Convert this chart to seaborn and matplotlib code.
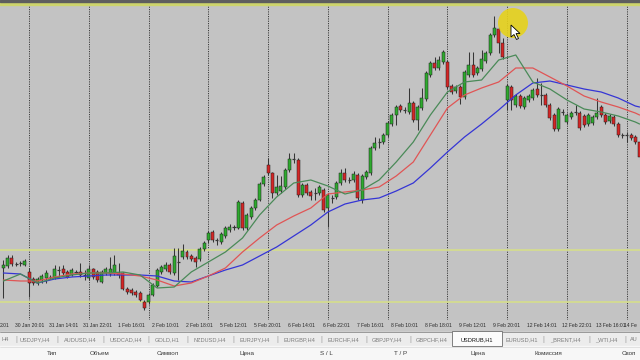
import matplotlib
matplotlib.use("Agg")
import matplotlib.pyplot as plt
import matplotlib.transforms as mtransforms
from matplotlib.patches import Rectangle, Circle, Polygon
import numpy as np
import pandas as pd
import seaborn as sns

# ---------------- data (USDRUB,H1, price in points above chart bottom) ----------------
open_pts = [52, 54, 62, 56, 57, 55, 48, 41, 37, 40, 42, 43, 42, 50, 51, 48, 45, 48, 48, 45,
            42, 51, 48, 38, 47, 46, 47, 47, 47, 31, 30, 28, 27, 18, 18, 25, 34, 48, 51, 55,
            47, 58, 63, 68, 64, 62, 61, 71, 80, 88, 80, 78, 84, 90, 93, 92, 117, 92, 103, 112,
            120, 136, 155, 147, 127, 129, 133, 150, 161, 160, 125, 135, 128, 127, 127, 130, 112, 122, 123, 137,
            147, 140, 140, 145, 120, 143, 147, 172, 178, 178, 185, 196, 205, 214, 210, 208, 217, 200, 212, 221,
            245, 257, 252, 258, 258, 234, 229, 233, 223, 245, 255, 247, 251, 259, 267, 285, 291, 277, 220, 233,
            215, 224, 213, 220, 222, 231, 225, 225, 215, 205, 191, 208, 198, 203, 208, 207, 204, 196, 197, 203,
            213, 205, 199, 203, 196, 185, 185, 185, 183, 178]
high_pts = [60, 65, 65, 58, 59, 61, 52, 43, 43, 46, 50, 45, 55, 54, 55, 50, 52, 50, 57, 50,
            55, 52, 50, 50, 53, 63, 65, 57, 48, 33, 32, 30, 29, 20, 27, 37, 52, 55, 58, 57,
            72, 72, 76, 70, 66, 64, 73, 79, 89, 90, 82, 88, 94, 96, 95, 120, 119, 107, 114, 122,
            138, 145, 162, 148, 145, 144, 152, 167, 167, 162, 137, 137, 130, 132, 135, 132, 127, 125, 139, 151,
            152, 143, 149, 147, 146, 150, 174, 183, 182, 187, 199, 207, 215, 216, 213, 232, 219, 215, 232, 249,
            259, 263, 264, 270, 260, 236, 235, 235, 250, 268, 268, 254, 270, 269, 287, 304, 293, 282, 236, 235,
            226, 226, 224, 226, 232, 242, 237, 227, 217, 207, 213, 211, 207, 209, 215, 209, 206, 207, 205, 222,
            215, 207, 206, 205, 198, 187, 188, 187, 185, 180]
low_pts = [22, 52, 54, 54, 54, 54, 23, 35, 35, 37, 37, 41, 41, 43, 45, 42, 44, 46, 43, 40,
           40, 41, 38, 37, 45, 44, 45, 42, 30, 26, 25, 23, 19, 10, 16, 24, 33, 46, 49, 46,
           45, 40, 61, 61, 59, 53, 59, 69, 77, 78, 75, 76, 82, 88, 90, 91, 90, 90, 101, 110,
           119, 134, 145, 122, 125, 127, 131, 148, 157, 123, 123, 125, 120, 120, 125, 108, 93, 117, 121, 135,
           138, 137, 138, 120, 117, 141, 145, 170, 172, 176, 183, 194, 195, 208, 207, 206, 198, 190, 210, 219,
           243, 250, 250, 256, 231, 226, 227, 216, 221, 243, 243, 245, 249, 257, 265, 283, 267, 261, 210, 210,
           213, 212, 211, 218, 220, 223, 215, 213, 200, 189, 189, 205, 196, 201, 205, 190, 193, 194, 195, 201,
           203, 196, 197, 194, 183, 182, 178, 180, 176, 161]
close_pts = [55, 62, 56, 56, 57, 59, 37, 37, 41, 44, 47, 43, 51, 50, 47, 43, 50, 48, 45, 45,
             51, 43, 40, 48, 51, 51, 55, 45, 31, 28, 27, 25, 20, 12, 25, 35, 50, 53, 55, 48,
             64, 58, 69, 63, 61, 58, 71, 77, 87, 80, 80, 86, 92, 93, 93, 118, 92, 105, 112, 120,
             136, 143, 147, 127, 133, 134, 150, 161, 161, 125, 135, 127, 124, 127, 133, 110, 125, 122, 137, 147,
             140, 140, 146, 122, 144, 148, 172, 177, 178, 185, 197, 205, 213, 210, 210, 217, 200, 213, 222, 247,
             257, 252, 260, 268, 233, 228, 233, 223, 248, 255, 245, 252, 261, 267, 285, 292, 277, 263, 234, 220,
             224, 214, 222, 224, 230, 225, 225, 215, 202, 191, 211, 208, 205, 207, 208, 192, 195, 205, 203, 207,
             205, 198, 204, 196, 185, 185, 185, 182, 178, 163]

# moving averages at every 4th bar
ma_bars = [0, 4, 8, 12, 16, 20, 24, 28, 32, 36, 40, 44, 48, 52, 56, 60, 64, 68, 72, 76,
           80, 84, 88, 92, 96, 100, 104, 108, 112, 116, 120, 124, 128, 132, 136, 140, 144, 148, 149]
ma_fast = [39, 46, 37, 42, 45, 47, 47, 48, 45, 32, 33, 48, 58, 68, 82, 105, 123, 137, 140, 134,
           126, 130, 140, 158, 178, 205, 228, 238, 240, 260, 265, 238, 231, 220, 211, 208, 204, 198, 196]
ma_mid = [40, 39, 39, 43, 46, 47, 47, 46, 44, 40, 34, 37, 44, 52, 68, 82, 95, 104, 112, 126,
          128, 130, 133, 144, 158, 185, 212, 225, 232, 238, 252, 252, 243, 234, 224, 218, 213, 207, 205]
ma_slow = [47, 46, 37, 41, 43, 44, 45, 45, 45, 44, 39, 38, 44, 50, 55, 64, 73, 84, 95, 108,
           116, 120, 122, 129, 137, 152, 168, 183, 196, 210, 225, 237, 239, 235, 231, 228, 222, 214, 213]

level_lines = [70, 18]
top_line = 316.5
day_start_bars = [6, 20, 34, 48, 62, 76, 90, 104, 118, 132, 146]

# time-axis labels as visible in the screenshot (first and last are cut by the window)
time_label_bars = [-1.6, 2, 10, 18, 26, 34, 42, 50, 58, 66, 74, 82, 90, 98, 106, 114, 122, 130, 138, 144.6]
time_labels = ["2:01", "30 Jan 20:01", "31 Jan 14:01", "31 Jan 22:01", "1 Feb 16:01",
               "2 Feb 10:01", "2 Feb 18:01", "5 Feb 12:01", "5 Feb 20:01", "6 Feb 14:01",
               "6 Feb 22:01", "7 Feb 16:01", "8 Feb 10:01", "8 Feb 18:01", "9 Feb 12:01",
               "9 Feb 20:01", "12 Feb 14:01", "12 Feb 22:01", "13 Feb 16:01", "14 Fe"]

tab_names = ["H4", "USDJPY,H4", "AUDUSD,H4", "USDCAD,H4", "GOLD,H1", "NZDUSD,H4", "EURJPY,H4",
             "EURGBP,H4", "EURCHF,H4", "GBPJPY,H4", "GBPCHF,H4", "USDRUB,H1", "EURUSD,H1",
             "_BRENT,H4", "_WTI,H4", "AU"]
active_tab = "USDRUB,H1"
header_cols = ["Тип", "Объем", "Символ", "Цена", "S / L", "T / P", "Цена", "Комиссия", "Своп"]

# ---------------- layout constants (pixels) ----------------
tab_left_px = [1, 20, 64, 110, 155, 193, 240, 283, 328, 372, 416, 461, 505, 550, 595, 630]
tab_sep_px = [16, 57, 103, 148, 187, 233, 277, 321, 366, 410, 543, 589, 625]
header_center_px = [52, 100, 168, 247, 326, 401, 478, 548, 629]

BG = "#c3c3c3"
GREEN = "#2eaa2e"
RED = "#d42626"
WICK = "#363636"
EDGE = "#1e1e1e"

sns.set_style("white")
plt.rcParams["font.family"] = ["Liberation Sans", "DejaVu Sans"]

W, H = 640, 360
fig = plt.figure(figsize=(6.4, 3.6), dpi=100, facecolor=BG)
fx = lambda x: x / W
fy = lambda y: 1 - y / H

ax = fig.add_axes([0, fy(320), 1, 320 / H])
ax.set_facecolor(BG)
for s in ax.spines.values():
    s.set_visible(False)

df = pd.DataFrame({"bar": np.arange(len(open_pts)), "open": open_pts, "high": high_pts,
                   "low": low_pts, "close": close_pts})
up = df[df.close > df.open]
dn = df[df.close < df.open]
fl = df[df.close == df.open]

# separators and levels
for b in day_start_bars:
    ax.axvline(b, color="#3c3c3c", lw=0.7, ls=(0, (1.2, 1.2)), zorder=1)
for lv in level_lines:
    ax.axhline(lv, color="#d4dc90", lw=1.3, zorder=1.5)
ax.axhline(top_line, color="#cdd46c", lw=2.4, zorder=1.5)

# candles
ax.vlines(df.bar, df.low, df.high, color=WICK, lw=0.75, zorder=3)
ax.bar(up.bar, up.close - up.open, bottom=up.open, width=0.7, color=GREEN,
       edgecolor=EDGE, linewidth=0.35, zorder=4)
ax.bar(dn.bar, dn.open - dn.close, bottom=dn.close, width=0.7, color=RED,
       edgecolor=EDGE, linewidth=0.35, zorder=4)
ax.hlines(fl.close, fl.bar - 0.36, fl.bar + 0.36, color=WICK, lw=0.9, zorder=4)

# moving averages
ma = pd.DataFrame({"bar": ma_bars, "fast": ma_fast, "mid": ma_mid, "slow": ma_slow})
sns.lineplot(data=ma, x="bar", y="slow", color="#3535d5", lw=0.9, ax=ax, zorder=5)
sns.lineplot(data=ma, x="bar", y="mid", color="#e05555", lw=0.9, ax=ax, zorder=5)
sns.lineplot(data=ma, x="bar", y="fast", color="#4a8a58", lw=0.9, ax=ax, zorder=5)

ax.set_xlim(-0.8, 149.1)
ax.set_ylim(0, 320)
ax.set_xticks([])
ax.set_yticks([])
ax.set_xlabel("")
ax.set_ylabel("")

# ---------------- bottom panels ----------------
fig.add_artist(Rectangle((0, fy(1.5)), 1, 1.5 / H, transform=fig.transFigure,
                         color="#5e5e5e", zorder=6))
fig.add_artist(Rectangle((0, fy(332)), 1, 12 / H, transform=fig.transFigure,
                         color="#c6c6c6", zorder=1))
fig.add_artist(Rectangle((0, fy(346)), 1, 14 / H, transform=fig.transFigure,
                         color="#ececec", zorder=1))
fig.add_artist(Rectangle((0, 0), 1, 14 / H, transform=fig.transFigure,
                         color="#f7f7f7", zorder=1))
fig.add_artist(plt.Line2D([0, 1], [fy(332), fy(332)], transform=fig.transFigure,
                          color="#8c8c8c", lw=0.6, zorder=2))
fig.add_artist(plt.Line2D([0, 1], [fy(346.5), fy(346.5)], transform=fig.transFigure,
                          color="#d8d8d8", lw=0.5, zorder=2))

renderer = fig.canvas.get_renderer()


def fit_size(sample, target_px):
    t = fig.text(0, 0, sample, fontsize=10)
    w = t.get_window_extent(renderer).width
    t.remove()
    return 10 * target_px / w


fs_time = fit_size("30 Jan 20:01", 29)
fs_tab = fit_size("USDJPY,H4", 30)
fs_head = fit_size("Комиссия", 28)

blend = mtransforms.blended_transform_factory(ax.transData, fig.transFigure)
for b, lab in zip(time_label_bars, time_labels):
    fig.text(b + 0.75, fy(325.5), lab, transform=blend, fontsize=fs_time,
             color="#2a2a2a", ha="left", va="center", zorder=3)

# active tab
fig.add_artist(Rectangle((fx(452), fy(346)), 50 / W, 15 / H, transform=fig.transFigure,
                         facecolor="#fbfbfb", edgecolor="#6e6e6e", lw=0.6, zorder=2))
for name, x in zip(tab_names, tab_left_px):
    col = "#111111" if name == active_tab else "#7c7c7c"
    fig.text(fx(x), fy(339.5), name, fontsize=fs_tab, color=col, ha="left",
             va="center", zorder=3)
for x in tab_sep_px:
    fig.text(fx(x), fy(339.5), "|", fontsize=fs_tab * 1.2, color="#9a9a9a",
             ha="center", va="center", zorder=3)

for name, x in zip(header_cols, header_center_px):
    fig.text(fx(x), fy(353.5), name, fontsize=fs_head, color="#3a3a3a",
             ha="center", va="center", zorder=3)

# mouse highlight
ident = mtransforms.IdentityTransform()
fig.add_artist(Circle((513, H - 23), 15, transform=ident, facecolor="#e6d21c",
                      edgecolor="none", alpha=0.9, zorder=7))
arrow = [(511, 25), (511, 37), (514, 34.5), (516.5, 39.5), (518.5, 38.5),
         (516, 33.5), (520, 33.5)]
fig.add_artist(Polygon([(x, H - y) for x, y in arrow], closed=True, transform=ident,
                       facecolor="white", edgecolor="black", lw=0.6, zorder=8))

fig.savefig("out.png", dpi=100, facecolor=BG)
